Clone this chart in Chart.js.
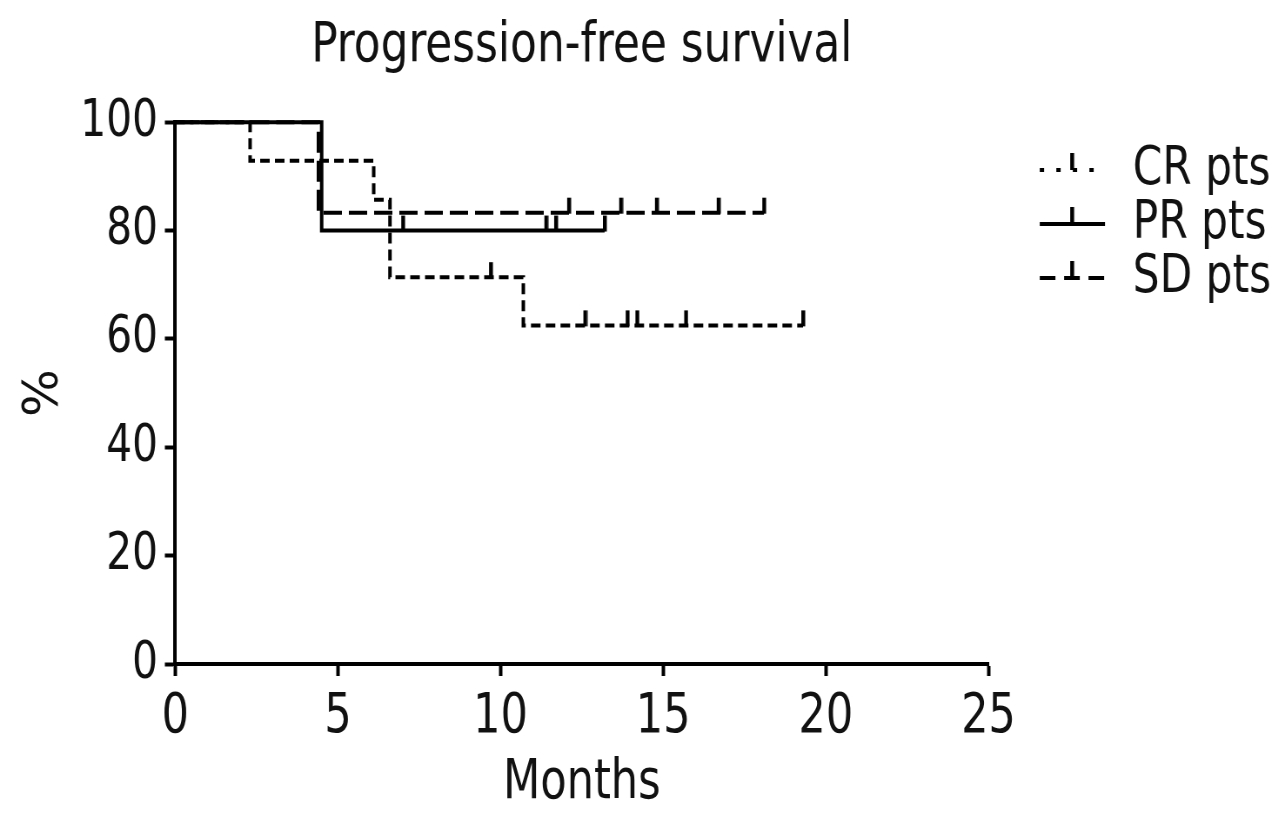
<!DOCTYPE html>
<html>
<head>
<meta charset="utf-8">
<script src="https://cdn.jsdelivr.net/npm/chart.js@4/dist/chart.umd.min.js"></script>
<style>
html,body{margin:0;padding:0;background:#fff;overflow:hidden;width:1280px;height:821px;}
#wrap{width:1471px;height:821px;transform:scaleX(0.87);transform-origin:0 0;}
canvas{display:block;}
</style>
</head>
<body>
<div id="wrap"><canvas id="c" width="1471" height="821" style="width:1471px;height:821px"></canvas></div>
<script>
// Kaplan-Meier data
const crTimes    = [0, 2.3, 6.1, 6.6, 9.7, 10.7, 12.6, 13.9, 14.2, 15.7, 19.3];
const crSurv     = [100, 92.9, 85.7, 71.4, 71.4, 62.5, 62.5, 62.5, 62.5, 62.5, 62.5];
const crCensored = [0, 0, 0, 0, 1, 0, 1, 1, 1, 1, 1];

const prTimes    = [0, 4.5, 7.0, 11.4, 11.7, 13.2];
const prSurv     = [100, 80, 80, 80, 80, 80];
const prCensored = [0, 0, 1, 1, 1, 1];

const sdTimes    = [0, 4.4, 12.1, 13.7, 14.8, 16.7, 18.1];
const sdSurv     = [100, 83.3, 83.3, 83.3, 83.3, 83.3, 83.3];
const sdCensored = [0, 0, 1, 1, 1, 1, 1];

const seriesNames = ['CR pts', 'PR pts', 'SD pts'];
const xTicks = [0, 5, 10, 15, 20, 25];
const yTicks = [0, 20, 40, 60, 80, 100];

const FONT = "'DejaVu Sans Condensed', 'Liberation Sans Narrow', 'Liberation Sans', sans-serif";
const LW = 4;

// censor tick glyph: vertical mark rising above the curve
function makeTick() {
  const c = document.createElement('canvas');
  c.width = 6; c.height = 32;
  const g = c.getContext('2d');
  g.fillStyle = '#000';
  g.fillRect(1, 1, LW + 0.5, 16);
  return c;
}
const tickImg = makeTick();

// legend sample glyph: line segment with a censor tick in the middle
function makeLegendGlyph(dash) {
  const c = document.createElement('canvas');
  c.width = 139; c.height = 44;
  const g = c.getContext('2d');
  g.strokeStyle = '#000';
  g.lineWidth = LW;
  g.setLineDash(dash);
  g.beginPath();
  g.moveTo(59, 22); g.lineTo(134, 22);
  g.stroke();
  g.setLineDash([]);
  g.fillStyle = '#000';
  g.fillRect(94, 5, LW + 0.5, 17);
  return c;
}

function toPts(t, s) { return t.map((x, i) => ({x: x, y: s[i]})); }

const dashes = [[11, 6], [], [21, 8]];
const legendDashes = [[5, 14], [], [18, 10]];
const sets = [
  {t: crTimes, s: crSurv, c: crCensored},
  {t: prTimes, s: prSurv, c: prCensored},
  {t: sdTimes, s: sdSurv, c: sdCensored}
];

const datasets = sets.map((d, k) => ({
  label: seriesNames[k],
  data: toPts(d.t, d.s),
  showLine: true,
  stepped: 'before',
  borderColor: '#000',
  backgroundColor: '#000',
  borderWidth: LW,
  borderDash: dashes[k],
  pointStyle: tickImg,
  pointRadius: (ctx) => d.c[ctx.dataIndex] ? 3 : 0,
  pointHoverRadius: 0,
  clip: false,
  legendGlyph: makeLegendGlyph(legendDashes[k])
}));

new Chart(document.getElementById('c'), {
  type: 'scatter',
  data: { datasets },
  options: {
    responsive: false,
    animation: false,
    devicePixelRatio: 1,
    layout: { padding: { left: 17, right: 0, top: 0, bottom: 4 } },
    plugins: {
      tooltip: { enabled: false },
      title: {
        display: true,
        fullSize: false,
        text: 'Progression-free survival',
        color: '#111',
        font: { family: FONT, size: 56, weight: 'normal' },
        padding: { top: 13, bottom: 42 }
      },
      legend: {
        position: 'right',
        align: 'start',
        maxWidth: 335,
        title: { display: true, text: ' ', font: { size: 10 }, padding: { top: 131, bottom: 0 } },
        labels: {
          usePointStyle: true,
          pointStyleWidth: 139,
          padding: 0,
          color: '#111',
          font: { family: FONT, size: 54 },
          generateLabels: (chart) => chart.data.datasets.map((ds, i) => ({
            text: ds.label,
            fontColor: '#111',
            pointStyle: ds.legendGlyph,
            strokeStyle: '#000',
            fillStyle: '#000',
            lineWidth: 0,
            hidden: false,
            datasetIndex: i
          }))
        }
      }
    },
    scales: {
      x: {
        type: 'linear',
        min: 0, max: 25,
        afterBuildTicks: (s) => { s.ticks = xTicks.map(v => ({value: v})); },
        ticks: { color: '#111', font: { family: FONT, size: 55 }, padding: 9 },
        grid: { display: true, drawOnChartArea: false, drawTicks: true, tickLength: 12, tickWidth: LW, tickColor: '#000' },
        border: { display: true, color: '#000', width: LW },
        title: { display: true, text: 'Months', color: '#111', font: { family: FONT, size: 55 }, padding: { top: -9, bottom: 0 } }
      },
      y: {
        type: 'linear',
        min: 0, max: 100,
        afterBuildTicks: (s) => { s.ticks = yTicks.map(v => ({value: v})); },
        ticks: { color: '#111', font: { family: FONT, size: 52 }, padding: 8 },
        grid: { display: true, drawOnChartArea: false, drawTicks: true, tickLength: 12, tickWidth: LW, tickColor: '#000' },
        border: { display: true, color: '#000', width: LW },
        title: { display: true, text: '%', color: '#111', font: { family: FONT, size: 56 }, padding: { top: 0, bottom: 0 } }
      }
    }
  }
});
</script>
</body>
</html>
